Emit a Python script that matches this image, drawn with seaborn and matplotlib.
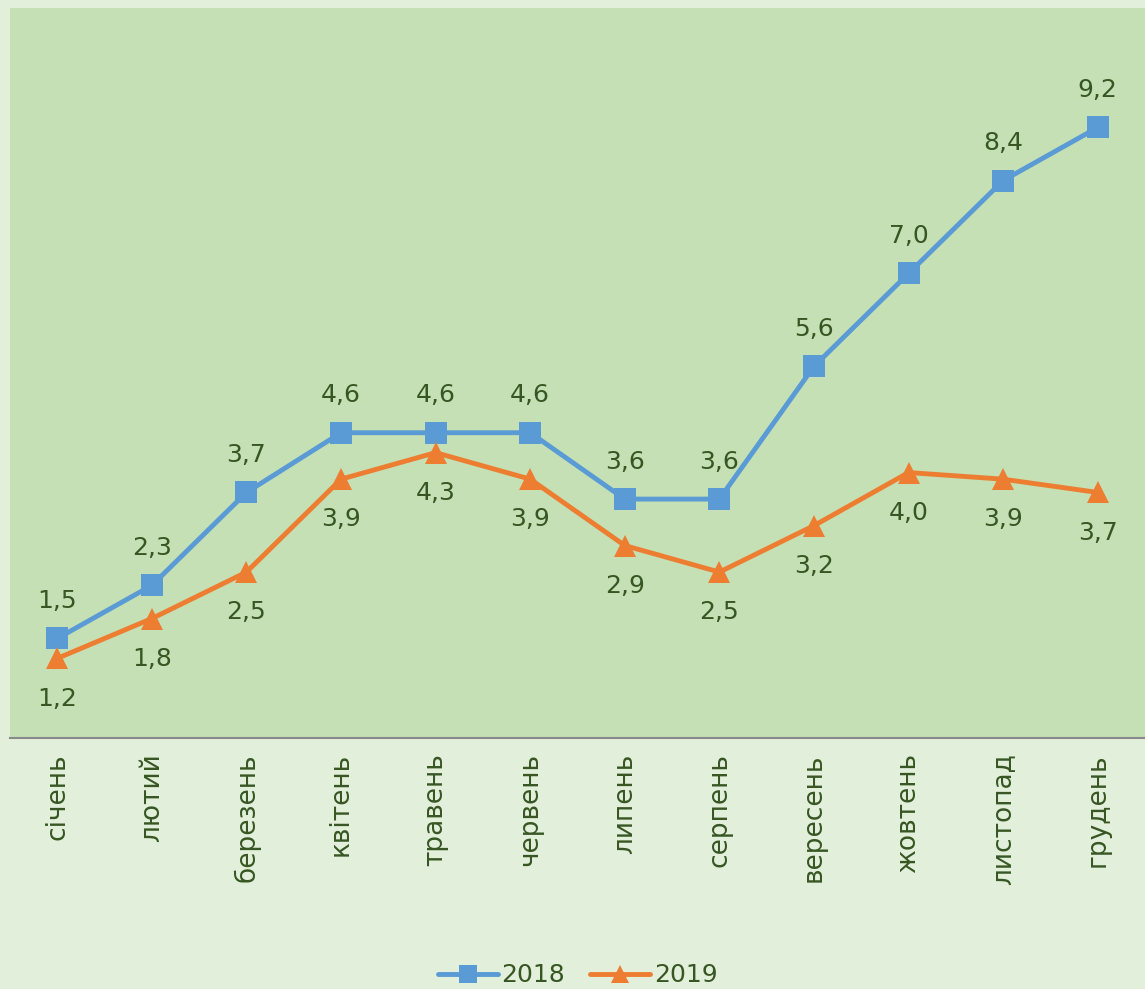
import matplotlib
matplotlib.use("Agg")
import matplotlib.pyplot as plt
import seaborn as sns
import pandas as pd

sns.set_theme(style="white")
plt.rcParams['font.family'] = ['Verdana', 'DejaVu Sans']

# --- data ---
months = ['січень', 'лютий', 'березень', 'квітень', 'травень', 'червень',
          'липень', 'серпень', 'вересень', 'жовтень', 'листопад', 'грудень']
values_2018 = [1.5, 2.3, 3.7, 4.6, 4.6, 4.6, 3.6, 3.6, 5.6, 7.0, 8.4, 9.2]
values_2019 = [1.2, 1.8, 2.5, 3.9, 4.3, 3.9, 2.9, 2.5, 3.2, 4.0, 3.9, 3.7]

df = pd.DataFrame({
    'month': months * 2,
    'x': list(range(len(months))) * 2,
    'value': values_2018 + values_2019,
    'year': ['2018'] * len(months) + ['2019'] * len(months),
})

text_color = '#375623'
colors = {'2018': '#5B9BD5', '2019': '#ED7D31'}

fig = plt.figure(figsize=(11.45, 9.89), dpi=100, facecolor='#E2EFDA')
ax = fig.add_axes([10 / 1145, 1 - 738 / 989, 1 - 10 / 1145, 730 / 989])
ax.set_facecolor('#C5E0B4')

sns.lineplot(data=df, x='x', y='value', hue='year', style='year',
             palette=colors, markers={'2018': 's', '2019': '^'}, dashes=False,
             linewidth=3.5, markersize=16, markeredgewidth=0, ax=ax)

# data labels: 2018 above, 2019 below
for i, v in enumerate(values_2018):
    ax.annotate(f'{v:.1f}'.replace('.', ','), (i, v), xytext=(0, 27),
                textcoords='offset points', ha='center', va='center',
                fontsize=18, color=text_color)
for i, v in enumerate(values_2019):
    ax.annotate(f'{v:.1f}'.replace('.', ','), (i, v), xytext=(0, -29),
                textcoords='offset points', ha='center', va='center',
                fontsize=18, color=text_color)

ax.set_xlim(-0.5, 11.5)
ax.set_ylim(0, 11)
ax.set_xticks(range(len(months)))
ax.set_xticklabels(months, rotation=90, fontsize=19, color=text_color)
ax.tick_params(axis='x', length=0, pad=11)
ax.set_yticks([])
ax.set_xlabel('')
ax.set_ylabel('')
for s in ['top', 'left', 'right']:
    ax.spines[s].set_visible(False)
ax.spines['bottom'].set_color('#898989')
ax.spines['bottom'].set_linewidth(1.5)

handles, labels = ax.get_legend_handles_labels()
ax.legend(handles, labels, loc='center', bbox_to_anchor=(0.5, -0.325),
          ncol=2, frameon=False, fontsize=18, labelcolor=text_color,
          handlelength=2.4, handletextpad=0.15, columnspacing=1.0,
          markerscale=0.85)

fig.savefig('out.png', dpi=100, facecolor=fig.get_facecolor())
